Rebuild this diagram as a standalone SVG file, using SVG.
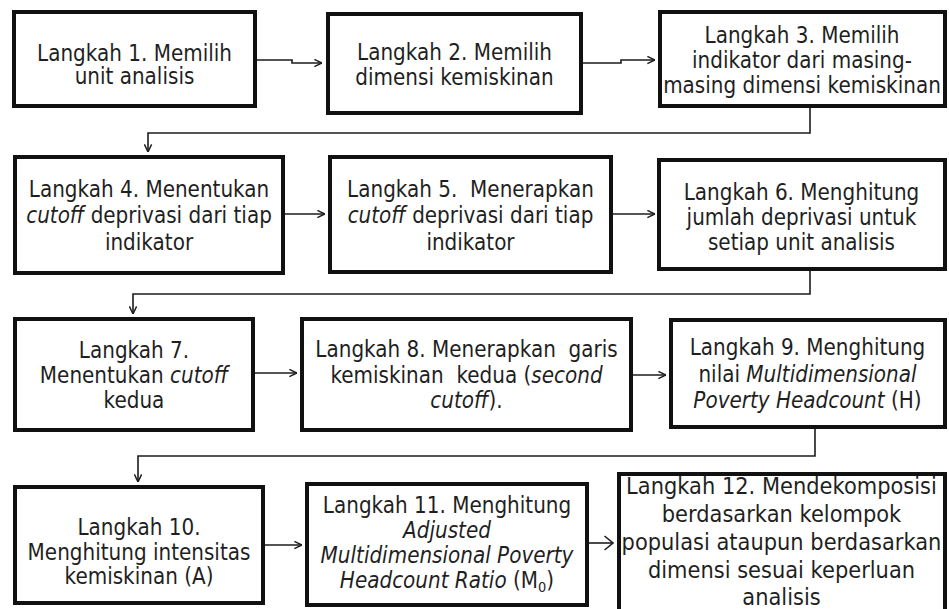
<svg xmlns="http://www.w3.org/2000/svg" width="949" height="609" viewBox="0 0 949 609">
<style>
  .box { fill: #ffffff; stroke: #111111; stroke-width: 4; }
  .t { font-family: "DejaVu Sans", Verdana, sans-serif; font-size: 20px; fill: #1f1f1f; text-anchor: middle; white-space: pre; }
  .t12 { font-size: 21px; }
  .i { font-style: italic; }
  .c { fill: none; stroke: #1c1c1c; stroke-width: 1.6; marker-end: url(#ah); }
  .c2 { fill: none; stroke: #1c1c1c; stroke-width: 1.6; marker-end: url(#ahBig); }
</style>
<defs>
  <marker id="ah" viewBox="0 0 10 10" refX="9.5" refY="5" markerWidth="9" markerHeight="9" markerUnits="userSpaceOnUse" orient="auto">
    <path d="M1,1 L9.5,5 L1,9" fill="none" stroke="#1c1c1c" stroke-width="1.6"/>
  </marker>
  <marker id="ahBig" viewBox="0 0 10 16" refX="9.5" refY="8" markerWidth="10" markerHeight="16" markerUnits="userSpaceOnUse" orient="auto">
    <path d="M1,1 L9.5,8 L1,15" fill="none" stroke="#1c1c1c" stroke-width="1.6"/>
  </marker>
</defs>
<rect x="0" y="0" width="949" height="609" fill="#ffffff"/>

<g id="connectors">
  <path class="c" d="M257,60 H292 V63 H322"/>
  <path class="c" d="M583,63 H621 V60 H655"/>
  <path class="c" d="M810,108 V133 H148 V152"/>
  <path class="c" d="M285,214 H325"/>
  <path class="c" d="M613,214 H655"/>
  <path class="c" d="M810,271 V294 H133 V314"/>
  <path class="c" d="M255,373 H297"/>
  <path class="c" d="M633,375 H666"/>
  <path class="c" d="M815,429 V456 H138 V482"/>
  <path class="c" d="M265,545 H302"/>
  <path class="c2" d="M589,543 H613"/>
</g>

<g id="step1">
  <rect class="box" x="14" y="12" width="241" height="94"/>
  <text class="t" x="134.5" y="61" transform="matrix(1 0 0 1.12 0 -7.32)">Langkah 1. Memilih</text>
  <text class="t" x="134.5" y="84" transform="matrix(1 0 0 1.12 0 -10.08)">unit analisis</text>
</g>
<g id="step2">
  <rect class="box" x="328" y="14" width="253" height="99"/>
  <text class="t" x="454.5" y="60" transform="matrix(1 0 0 1.12 0 -7.2)">Langkah 2. Memilih</text>
  <text class="t" x="454.5" y="85" transform="matrix(1 0 0 1.12 0 -10.2)">dimensi kemiskinan</text>
</g>
<g id="step3">
  <rect class="box" x="660" y="12" width="285" height="94"/>
  <text class="t" x="802" y="43" transform="matrix(1 0 0 1.12 0 -5.16)">Langkah 3. Memilih</text>
  <text class="t" x="802" y="68" transform="matrix(1 0 0 1.12 0 -8.16)">indikator dari masing-</text>
  <text class="t" x="802" y="93" transform="matrix(1 0 0 1.12 0 -11.16)">masing dimensi kemiskinan</text>
</g>
<g id="step4">
  <rect class="box" x="15" y="157" width="268" height="116"/>
  <text class="t" x="149" y="197" transform="matrix(1 0 0 1.12 0 -23.64)">Langkah 4. Menentukan</text>
  <text class="t" x="149" y="223" transform="matrix(1 0 0 1.12 0 -26.76)"><tspan class="i">cutoff</tspan> deprivasi dari tiap</text>
  <text class="t" x="149" y="250" transform="matrix(1 0 0 1.12 0 -30)">indikator</text>
</g>
<g id="step5">
  <rect class="box" x="330" y="157" width="281" height="115"/>
  <text class="t" x="470.5" y="197" transform="matrix(1 0 0 1.12 0 -23.64)">Langkah 5.  Menerapkan</text>
  <text class="t" x="470.5" y="223" transform="matrix(1 0 0 1.12 0 -26.76)"><tspan class="i">cutoff</tspan> deprivasi dari tiap</text>
  <text class="t" x="470.5" y="250" transform="matrix(1 0 0 1.12 0 -30)">indikator</text>
</g>
<g id="step6">
  <rect class="box" x="659" y="160" width="286" height="109"/>
  <text class="t" x="801.5" y="200" transform="matrix(1 0 0 1.12 0 -24)">Langkah 6. Menghitung</text>
  <text class="t" x="801.5" y="225" transform="matrix(1 0 0 1.12 0 -27)">jumlah deprivasi untuk</text>
  <text class="t" x="801.5" y="250" transform="matrix(1 0 0 1.12 0 -30)">setiap unit analisis</text>
</g>
<g id="step7">
  <rect class="box" x="15" y="319" width="238" height="111"/>
  <text class="t" x="134" y="358" transform="matrix(1 0 0 1.12 0 -42.96)">Langkah 7.</text>
  <text class="t" x="134" y="383" transform="matrix(1 0 0 1.12 0 -45.96)">Menentukan <tspan class="i">cutoff</tspan></text>
  <text class="t" x="134" y="408" transform="matrix(1 0 0 1.12 0 -48.96)">kedua</text>
</g>
<g id="step8">
  <rect class="box" x="302" y="319" width="329" height="111"/>
  <text class="t" x="466.5" y="357" transform="matrix(1 0 0 1.12 0 -42.84)">Langkah 8. Menerapkan  garis</text>
  <text class="t" x="466.5" y="383" transform="matrix(1 0 0 1.12 0 -45.96)">kemiskinan  kedua (<tspan class="i">second</tspan></text>
  <text class="t" x="466.5" y="408" transform="matrix(1 0 0 1.12 0 -48.96)"><tspan class="i">cutoff</tspan>).</text>
</g>
<g id="step9">
  <rect class="box" x="671" y="320" width="274" height="107"/>
  <text class="t" x="807.5" y="355" transform="matrix(1 0 0 1.12 0 -42.6)">Langkah 9. Menghitung</text>
  <text class="t" x="807.5" y="382" transform="matrix(1 0 0 1.12 0 -45.84)">nilai <tspan class="i">Multidimensional</tspan></text>
  <text class="t" x="807.5" y="408" transform="matrix(1 0 0 1.12 0 -48.96)"><tspan class="i">Poverty Headcount</tspan> (H)</text>
</g>
<g id="step10">
  <rect class="box" x="15" y="487" width="248" height="116"/>
  <text class="t" x="139" y="535" transform="matrix(1 0 0 1.12 0 -64.2)">Langkah 10.</text>
  <text class="t" x="139" y="560" transform="matrix(1 0 0 1.12 0 -67.2)">Menghitung intensitas</text>
  <text class="t" x="139" y="584" transform="matrix(1 0 0 1.12 0 -70.08)">kemiskinan (A)</text>
</g>
<g id="step11">
  <rect class="box" x="307" y="484" width="280" height="121"/>
  <text class="t" x="447" y="513" transform="matrix(1 0 0 1.12 0 -61.56)">Langkah 11. Menghitung</text>
  <text class="t i" x="447" y="538" transform="matrix(1 0 0 1.12 0 -64.56)">Adjusted</text>
  <text class="t i" x="447" y="563" transform="matrix(1 0 0 1.12 0 -67.56)">Multidimensional Poverty</text>
  <text class="t" x="447" y="588" transform="matrix(1 0 0 1.12 0 -70.56)"><tspan class="i">Headcount Ratio</tspan> (M<tspan font-size="13" dy="4">0</tspan><tspan dy="-4">)</tspan></text>
</g>
<g id="step12">
  <rect class="box" x="619" y="474" width="326" height="145"/>
  <text class="t t12" x="781.5" y="494" transform="matrix(1 0 0 1.12 0 -59.28)">Langkah 12. Mendekomposisi</text>
  <text class="t t12" x="781.5" y="522" transform="matrix(1 0 0 1.12 0 -62.64)">berdasarkan kelompok</text>
  <text class="t t12" x="781.5" y="550" transform="matrix(1 0 0 1.12 0 -66)">populasi ataupun berdasarkan</text>
  <text class="t t12" x="781.5" y="578" transform="matrix(1 0 0 1.12 0 -69.36)">dimensi sesuai keperluan</text>
  <text class="t t12" x="781.5" y="605" transform="matrix(1 0 0 1.12 0 -72.6)">analisis</text>
</g>
</svg>
